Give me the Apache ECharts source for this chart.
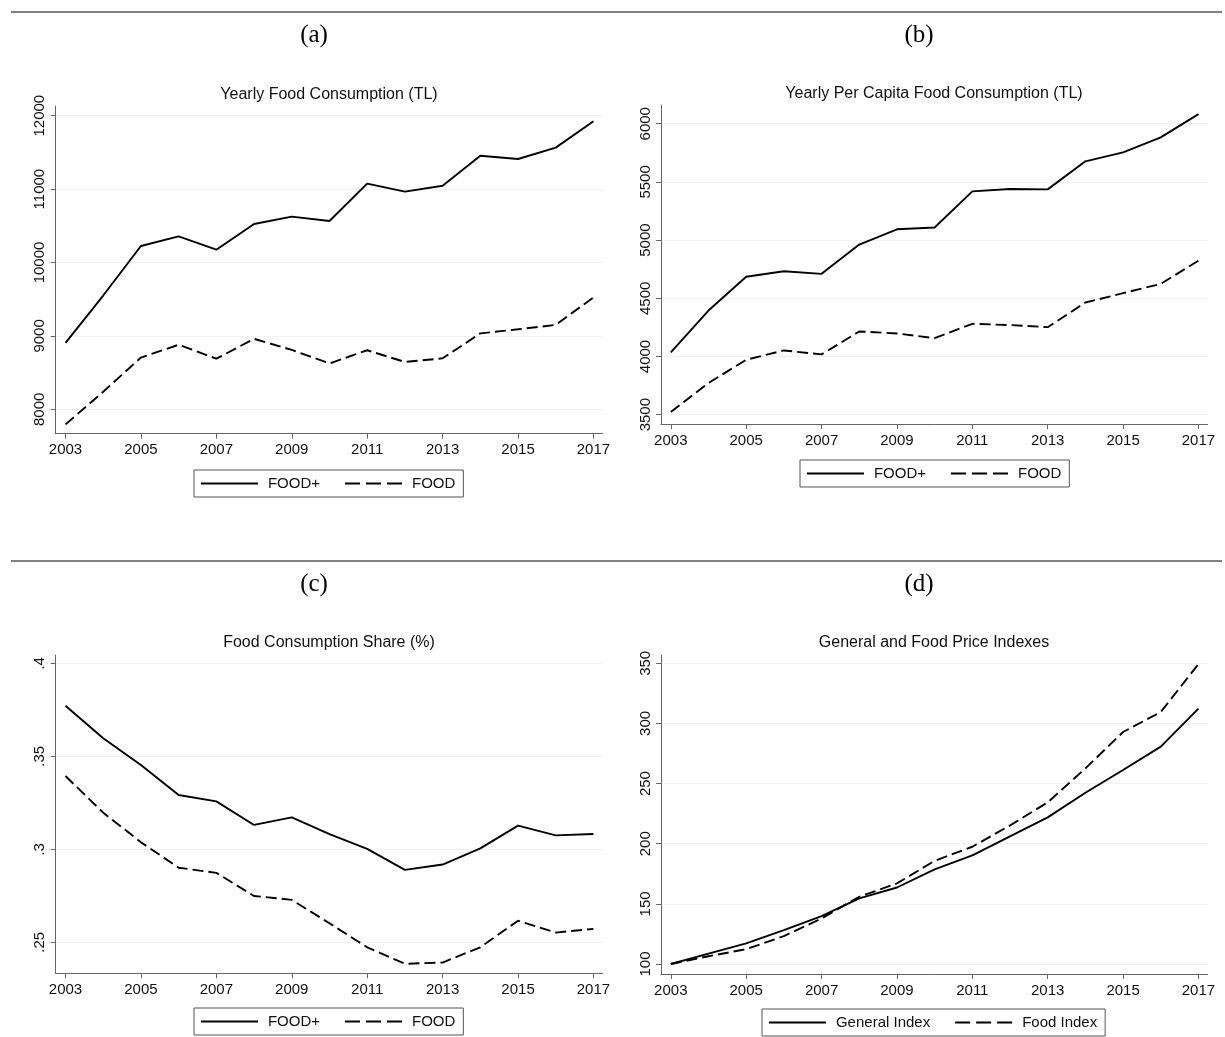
<!DOCTYPE html>
<html>
<head>
<meta charset="utf-8">
<title>Food Consumption and Price Indexes, 2003-2017</title>
<script src="https://cdn.jsdelivr.net/npm/echarts@6/dist/echarts.min.js"></script>
<style>
  html, body { margin: 0; padding: 0; background: #ffffff; }
  #chart { width: 1225px; height: 1037px; }
</style>
</head>
<body>
<div id="chart"></div>
<script>
// ---- data -------------------------------------------------------------
const years = [2003, 2004, 2005, 2006, 2007, 2008, 2009, 2010, 2011, 2012, 2013, 2014, 2015, 2016, 2017];

// (a) yearly household food consumption, TL
const foodPlusTotal = [8905, 9550, 10225, 10355, 10175, 10525, 10625, 10565, 11075, 10965, 11045, 11455, 11410, 11565, 11925];
const foodTotal     = [7795, 8240, 8705, 8880, 8690, 8960, 8810, 8625, 8805, 8645, 8695, 9035, 9090, 9150, 9525];

// (b) yearly per capita food consumption, TL
const foodPlusPerCapita = [4035, 4395, 4685, 4733, 4710, 4962, 5093, 5108, 5419, 5439, 5436, 5677, 5754, 5883, 6083];
const foodPerCapita     = [3523, 3772, 3972, 4052, 4018, 4215, 4198, 4158, 4281, 4270, 4252, 4464, 4544, 4624, 4824];

// (c) food consumption share
const foodPlusShare = [0.3772, 0.3597, 0.3453, 0.3292, 0.3258, 0.3131, 0.3172, 0.3081, 0.3002, 0.2889, 0.2918, 0.3005, 0.3127, 0.3075, 0.3082];
const foodShare     = [0.3394, 0.3197, 0.3038, 0.2901, 0.2873, 0.2749, 0.2728, 0.2602, 0.2473, 0.2384, 0.2391, 0.2473, 0.2616, 0.2552, 0.2572];

// (d) general and food price indexes (2003 = 100)
const generalIndex = [100, 108.7, 117.1, 128.1, 139.8, 154.5, 163.6, 178.6, 190.3, 206.1, 221.9, 242.4, 261.3, 280.7, 312.3];
const foodIndex    = [100, 106.5, 112.3, 123.2, 137.9, 155.9, 167.0, 185.8, 197.5, 215.2, 234.4, 262.6, 292.9, 309.5, 349.4];

// tick labels
const yearTicks      = [2003, 2005, 2007, 2009, 2011, 2013, 2015, 2017];
const totalTicks     = [8000, 9000, 10000, 11000, 12000];
const perCapitaTicks = [3500, 4000, 4500, 5000, 5500, 6000];
const shareTicks     = [0.25, 0.3, 0.35, 0.4];
const indexTicks     = [100, 150, 200, 250, 300, 350];

// ---- styling ----------------------------------------------------------
const SANS = 'Liberation Sans';
const SERIF = 'Liberation Serif';
const INK = '#111111';
const AXIS = '#666666';
const GRID = '#f0f3f5';
const SOLID = 'solid';
const DASH = [11, 5];
const LEGEND_DASH = [15, 6];

const panels = [
  { grid: { left: 55.7, top: 106, width: 547, height: 327.7 }, yMin: 7668, yMax: 12132, yTicks: totalTicks,
    series: [['FOOD+', foodPlusTotal, SOLID], ['FOOD', foodTotal, DASH]],
    legend: { left: 194, top: 470 } },
  { grid: { left: 661, top: 105, width: 546.7, height: 319 }, yMin: 3420, yMax: 6161, yTicks: perCapitaTicks,
    series: [['FOOD+', foodPlusPerCapita, SOLID], ['FOOD', foodPerCapita, DASH]],
    legend: { left: 800, top: 460 } },
  { grid: { left: 55.7, top: 655, width: 547, height: 318.3 }, yMin: 0.2333, yMax: 0.4045, yTicks: shareTicks,
    yFormat: v => String(v).replace(/^0(?=\.)/, ''),
    series: [['FOOD+', foodPlusShare, SOLID], ['FOOD', foodShare, DASH]],
    legend: { left: 194, top: 1008 } },
  { grid: { left: 661, top: 655, width: 546.7, height: 319 }, yMin: 91.7, yMax: 356.9, yTicks: indexTicks,
    series: [['General Index', generalIndex, SOLID], ['Food Index', foodIndex, DASH]],
    legend: { left: 762, top: 1009 } }
];

const grids = [], xAxes = [], yAxes = [], series = [], legends = [];

panels.forEach((p, i) => {
  grids.push(Object.assign({ containLabel: false }, p.grid));

  xAxes.push({
    type: 'value', gridIndex: i, min: 2002.74, max: 2017.245,
    axisLine: { show: true, onZero: false, lineStyle: { color: AXIS, width: 1 } },
    axisTick: { show: true, length: 5, customValues: yearTicks, lineStyle: { color: AXIS, width: 1 } },
    axisLabel: { customValues: yearTicks, margin: 9, color: INK, fontSize: 15, fontFamily: SANS,
                 formatter: v => String(v) },
    splitLine: { show: false }
  });

  yAxes.push({
    type: 'value', gridIndex: i, min: p.yMin, max: p.yMax,
    axisLine: { show: true, onZero: false, lineStyle: { color: AXIS, width: 1 } },
    axisTick: { show: true, length: 5, customValues: p.yTicks, lineStyle: { color: AXIS, width: 1 } },
    axisLabel: { customValues: p.yTicks, rotate: 90, margin: 8, color: INK, fontSize: 15, fontFamily: SANS,
                 formatter: p.yFormat || (v => String(v)) },
    splitLine: { show: true, lineStyle: { color: GRID, width: 1 } }
  });

  p.series.forEach(([name, values, dash]) => {
    series.push({
      type: 'line', name, xAxisIndex: i, yAxisIndex: i,
      data: years.map((yr, k) => [yr, values[k]]),
      symbol: 'none', silent: true, color: '#000000',
      itemStyle: { color: '#000000' },
      lineStyle: { color: '#000000', width: 1.9, type: dash }
    });
  });

  legends.push({
    data: p.series.map(([name, , dash]) => ({
      name,
      lineStyle: { color: '#000000', width: 1.9, type: dash === SOLID ? SOLID : LEGEND_DASH }
    })),
    left: p.legend.left, top: p.legend.top,
    orient: 'horizontal', selectedMode: false,
    itemWidth: 57, itemHeight: 14, itemGap: 24,
    padding: [6, 8, 6, 6],
    borderColor: '#555555', borderWidth: 1,
    itemStyle: { opacity: 0 },
    textStyle: { color: INK, fontSize: 15, fontFamily: SANS, padding: [0, 0, 0, 5] }
  });
});

// panel headings, chart titles and separators
const chartTitles = [
  ['Yearly Food Consumption (TL)', 329, 95],
  ['Yearly Per Capita Food Consumption (TL)', 934, 94],
  ['Food Consumption Share (%)', 329, 643],
  ['General and Food Price Indexes', 934, 643]
];
const panelTags = [['(a)', 314, 35], ['(b)', 919, 35], ['(c)', 314, 584], ['(d)', 919, 584]];

const graphics = [
  { type: 'line', shape: { x1: 11, y1: 12, x2: 1222, y2: 12 }, style: { stroke: '#808080', lineWidth: 2 } },
  { type: 'line', shape: { x1: 11, y1: 561, x2: 1222, y2: 561 }, style: { stroke: '#808080', lineWidth: 2 } }
];
chartTitles.forEach(([text, x, y]) => graphics.push({
  type: 'text', x, y,
  style: { text, fontSize: 16, fontFamily: SANS, fill: INK, align: 'center', verticalAlign: 'middle' }
}));
panelTags.forEach(([text, x, y]) => graphics.push({
  type: 'text', x, y,
  style: { text, fontSize: 25, fontFamily: SERIF, fill: '#000000', align: 'center', verticalAlign: 'middle' }
}));

const chart = echarts.init(document.getElementById('chart'), null, { renderer: 'canvas' });
chart.setOption({
  animation: false,
  backgroundColor: '#ffffff',
  grid: grids,
  xAxis: xAxes,
  yAxis: yAxes,
  legend: legends,
  series: series,
  graphic: graphics
});
</script>
</body>
</html>
